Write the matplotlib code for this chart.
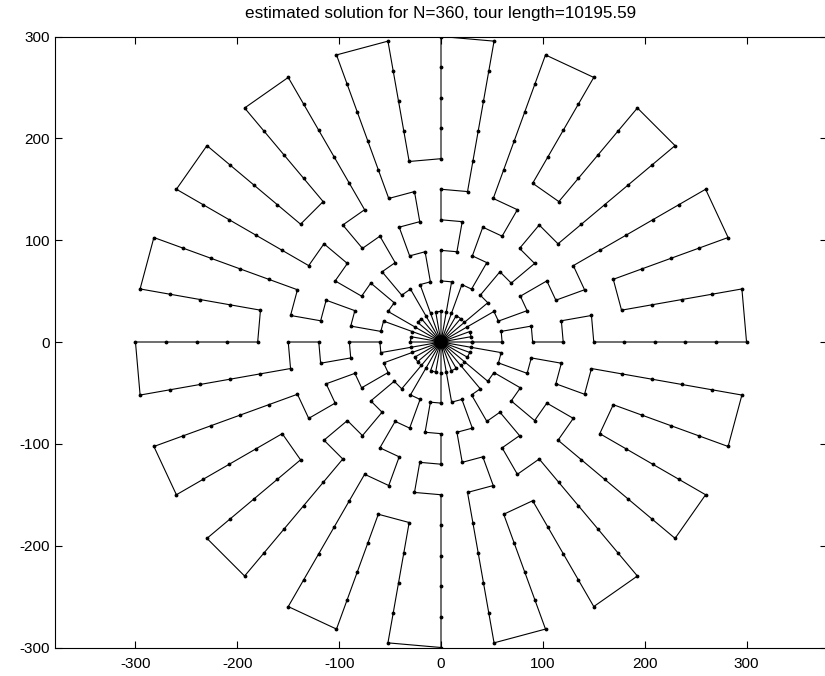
import numpy as np
import matplotlib.pyplot as plt

N = 360
TOUR_LENGTH = 10195.59
N_RAYS = 36
RAY_STEP_DEG = 10
SECTOR_WIDTH = 4  # rays per repeating sector

# order of visits within one sector: ray offset from the sector's first ray, radius
# the last two entries are the inner-ring hops across the centre to the next sector
SECTOR_RAYS = [0, 0, 1, 1, 0, 0, 1, 1, 0, 0, 0, 0, 0, 0,
               1, 1, 1, 1, 1, 2, 2, 2, 2, 2,
               3, 3, 3, 3, 3, 3, 2, 2, 3, 3, 2, 2, 3, 3,
               21, 22]
SECTOR_RADII = [30, 60, 60, 90, 90, 120, 120, 150, 150, 180, 210, 240, 270, 300,
                300, 270, 240, 210, 180, 180, 210, 240, 270, 300,
                300, 270, 240, 210, 180, 150, 150, 120, 120, 90, 90, 60, 60, 30,
                30, 30]

X_TICKS = [-300, -200, -100, 0, 100, 200, 300]
Y_TICKS = [-300, -200, -100, 0, 100, 200, 300]


def build_tour():
    rays, radii = [], []
    for s in range(N_RAYS // SECTOR_WIDTH):
        start = s * SECTOR_WIDTH
        rays += [(start + r) % N_RAYS for r in SECTOR_RAYS]
        radii += SECTOR_RADII
    rays.append(rays[0])
    radii.append(radii[0])
    theta = np.deg2rad(np.array(rays) * RAY_STEP_DEG)
    radii = np.array(radii, dtype=float)
    return radii * np.cos(theta), radii * np.sin(theta)


plt.rcParams['font.family'] = ['Liberation Sans', 'DejaVu Sans']
plt.rcParams['axes.unicode_minus'] = False

x, y = build_tour()

fig = plt.figure(figsize=(8.25, 6.76), dpi=100)
ax = fig.add_axes([55 / 825, 28.5 / 676, 772 / 825, 611 / 676])
ax.plot(x, y, '-', color='black', linewidth=0.8,
        marker='.', markersize=3.5, markerfacecolor='black', markeredgecolor='black')

ax.set_xlim(-379, 379)
ax.set_ylim(-300, 300)
ax.set_xticks(X_TICKS)
ax.set_yticks(Y_TICKS)
ax.tick_params(direction='in', top=True, right=True, length=5, width=0.8,
               labelsize=11)
ax.tick_params(axis='x', pad=7)
for sp in ax.spines.values():
    sp.set_linewidth(0.8)
ax.set_title(f"estimated solution for N={N}, tour length={TOUR_LENGTH:.2f}",
             fontsize=12.3, pad=13)

fig.savefig('out.png', dpi=100)
